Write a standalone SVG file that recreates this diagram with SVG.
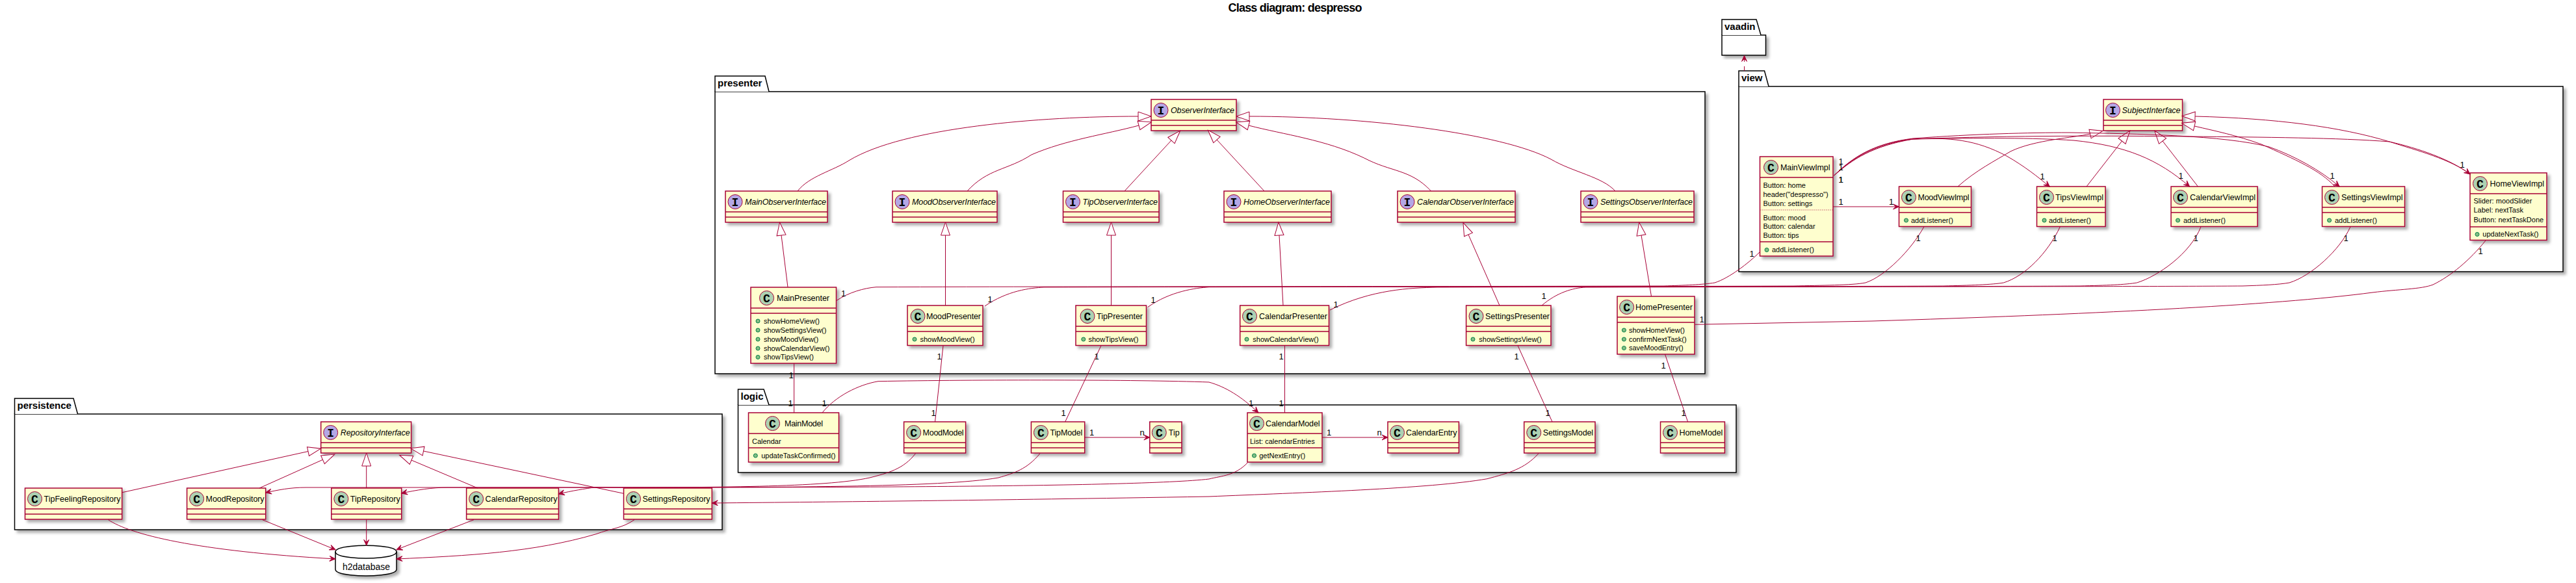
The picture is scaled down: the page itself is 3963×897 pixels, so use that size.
<svg xmlns="http://www.w3.org/2000/svg" width="3963" height="897" viewBox="0 0 3963 897">
<style>
text{font-family:"Liberation Sans",Arial,sans-serif;fill:#000}
.title{font-size:18px;font-weight:bold}
.pk{font-size:15px;font-weight:bold}
.pb{fill:#fff;stroke:#000;stroke-width:1.5;filter:url(#sh)}
.pt{fill:#fff;stroke:#000;stroke-width:1.5}
.box{fill:#FEFECE;stroke:#A80036;stroke-width:1.5;filter:url(#sh)}
.sep{fill:none;stroke:#A80036;stroke-width:1.5}
.dot{fill:none;stroke:#A80036;stroke-width:1;stroke-dasharray:1,2}
.cc{fill:#ADD1B2;stroke:#A80036;stroke-width:1}
.ci{fill:#B4A7E5;stroke:#A80036;stroke-width:1}
.g{font-family:"Liberation Mono",monospace;font-size:18px;font-weight:bold;text-anchor:middle}
.n{font-size:12.5px}
.ni{font-size:12.5px;font-style:italic}
.m{font-size:11px}
.md{fill:#84BE84;stroke:#038048;stroke-width:1}
.l{font-size:13px;text-anchor:middle}
.c{fill:none;stroke:#A80036;stroke-width:1}
.a{marker-end:url(#arr)}
.i{marker-end:url(#tri)}
.d{stroke-dasharray:7,7}
.db{fill:#fff;stroke:#000;stroke-width:1.5;filter:url(#sh)}
</style>
<defs>
<filter id="sh" x="-10%" y="-10%" width="130%" height="130%">
<feGaussianBlur in="SourceAlpha" stdDeviation="2" result="b"/>
<feOffset in="b" dx="4" dy="4" result="o"/>
<feColorMatrix in="o" type="matrix" values="0 0 0 0 0 0 0 0 0 0 0 0 0 0 0 0 0 0 .32 0" result="s"/>
<feMerge><feMergeNode in="s"/><feMergeNode in="SourceGraphic"/></feMerge>
</filter>
<marker id="arr" markerUnits="userSpaceOnUse" orient="auto" markerWidth="13" markerHeight="12" refX="10" refY="5" overflow="visible"><path d="M10,5 L1,1 L5,5 L1,9 Z" fill="#A80036" stroke="#A80036"/></marker>
<marker id="tri" markerUnits="userSpaceOnUse" orient="auto" markerWidth="24" markerHeight="18" refX="1" refY="8" overflow="visible"><path d="M1,1 L21,8 L1,15 Z" fill="#fff" stroke="#A80036"/></marker>
</defs>
<rect x="0" y="0" width="3963" height="897" fill="#fff"/>
<text class="title" x="1889.5" y="18" textLength="206">Class diagram: despresso</text>

<g id="pkg-presenter"><rect class="pb" x="1100" y="141" width="1523" height="434"/><path class="pt" d="M1100,141 V117 H1177 L1183,141"/><text class="pk" x="1104" y="133">presenter</text></g>
<g id="pkg-view"><rect class="pb" x="2675" y="133" width="1268" height="285"/><path class="pt" d="M2675,133 V109 H2714.5 L2721,133"/><text class="pk" x="2679" y="125">view</text></g>
<g id="pkg-vaadin"><rect class="pb" x="2649" y="54" width="67.5" height="31"/><path class="pt" d="M2649,54 V30 H2702 L2709,54"/><text class="pk" x="2653" y="46">vaadin</text></g>
<g id="pkg-logic"><rect class="pb" x="1135.5" y="623" width="1535.5" height="104"/><path class="pt" d="M1135.5,623 V599 H1175 L1183,623"/><text class="pk" x="1139.5" y="615">logic</text></g>
<g id="pkg-persistence"><rect class="pb" x="22.5" y="637" width="1088.5" height="178"/><path class="pt" d="M22.5,637 V613 H113 L119.5,637"/><text class="pk" x="26.5" y="629">persistence</text></g>

<g id="ObserverInterface"><rect class="box" x="1771" y="153" width="131" height="48"/><path class="sep" d="M1771,185H1902M1771,193H1902"/><circle class="ci" cx="1786" cy="169.5" r="11"/><text class="g" x="1786" y="175.5">I</text><text class="ni" x="1801" y="174" textLength="98">ObserverInterface</text></g>
<g id="MainObserverInterface"><rect class="box" x="1116" y="294" width="157" height="48"/><path class="sep" d="M1116,326H1273M1116,334H1273"/><circle class="ci" cx="1131" cy="310.5" r="11"/><text class="g" x="1131" y="316.5">I</text><text class="ni" x="1146" y="315" textLength="125">MainObserverInterface</text></g>
<g id="MoodObserverInterface"><rect class="box" x="1373" y="294" width="161" height="48"/><path class="sep" d="M1373,326H1534M1373,334H1534"/><circle class="ci" cx="1388" cy="310.5" r="11"/><text class="g" x="1388" y="316.5">I</text><text class="ni" x="1403" y="315" textLength="129">MoodObserverInterface</text></g>
<g id="TipObserverInterface"><rect class="box" x="1635.5" y="294" width="147.5" height="48"/><path class="sep" d="M1635.5,326H1783M1635.5,334H1783"/><circle class="ci" cx="1650.5" cy="310.5" r="11"/><text class="g" x="1650.5" y="316.5">I</text><text class="ni" x="1665.5" y="315" textLength="115.5">TipObserverInterface</text></g>
<g id="HomeObserverInterface"><rect class="box" x="1883" y="294" width="165" height="48"/><path class="sep" d="M1883,326H2048M1883,334H2048"/><circle class="ci" cx="1898" cy="310.5" r="11"/><text class="g" x="1898" y="316.5">I</text><text class="ni" x="1913" y="315" textLength="133">HomeObserverInterface</text></g>
<g id="CalendarObserverInterface"><rect class="box" x="2150" y="294" width="181" height="48"/><path class="sep" d="M2150,326H2331M2150,334H2331"/><circle class="ci" cx="2165" cy="310.5" r="11"/><text class="g" x="2165" y="316.5">I</text><text class="ni" x="2180" y="315" textLength="149">CalendarObserverInterface</text></g>
<g id="SettingsObserverInterface"><rect class="box" x="2432" y="294" width="174" height="48"/><path class="sep" d="M2432,326H2606M2432,334H2606"/><circle class="ci" cx="2447" cy="310.5" r="11"/><text class="g" x="2447" y="316.5">I</text><text class="ni" x="2462" y="315" textLength="142">SettingsObserverInterface</text></g>

<g id="MainPresenter"><rect class="box" x="1155" y="442" width="131.5" height="117"/><path class="sep" d="M1155,474H1286.5M1155,482H1286.5"/><circle class="cc" cx="1179.5" cy="458.5" r="11"/><text class="g" x="1179.5" y="464.5">C</text><text class="n" x="1195" y="463" textLength="81">MainPresenter</text>
<circle class="md" cx="1166" cy="494" r="3"/><text class="m" x="1175" y="497.5">showHomeView()</text><circle class="md" cx="1166" cy="508" r="3"/><text class="m" x="1175" y="511.5">showSettingsView()</text><circle class="md" cx="1166" cy="522" r="3"/><text class="m" x="1175" y="525.5">showMoodView()</text><circle class="md" cx="1166" cy="536" r="3"/><text class="m" x="1175" y="539.5">showCalendarView()</text><circle class="md" cx="1166" cy="549.5" r="3"/><text class="m" x="1175" y="553">showTipsView()</text></g>
<g id="MoodPresenter"><rect class="box" x="1396" y="470" width="116" height="61.5"/><path class="sep" d="M1396,502H1512M1396,510H1512"/><circle class="cc" cx="1412" cy="486.5" r="11"/><text class="g" x="1412" y="492.5">C</text><text class="n" x="1425" y="491" textLength="84">MoodPresenter</text><circle class="md" cx="1407" cy="522" r="3"/><text class="m" x="1415.5" y="525.5">showMoodView()</text></g>
<g id="TipPresenter"><rect class="box" x="1655" y="470" width="108.5" height="61.5"/><path class="sep" d="M1655,502H1763.5M1655,510H1763.5"/><circle class="cc" cx="1673" cy="486.5" r="11"/><text class="g" x="1673" y="492.5">C</text><text class="n" x="1687" y="491" textLength="71">TipPresenter</text><circle class="md" cx="1666.8" cy="522" r="3"/><text class="m" x="1674.4" y="525.5">showTipsView()</text></g>
<g id="CalendarPresenter"><rect class="box" x="1907.7" y="470" width="136.8" height="61.5"/><path class="sep" d="M1907.7,502H2044.5M1907.7,510H2044.5"/><circle class="cc" cx="1922.5" cy="486.5" r="11"/><text class="g" x="1922.5" y="492.5">C</text><text class="n" x="1937" y="491" textLength="105">CalendarPresenter</text><circle class="md" cx="1918" cy="522" r="3"/><text class="m" x="1927.3" y="525.5">showCalendarView()</text></g>
<g id="SettingsPresenter"><rect class="box" x="2255.6" y="470" width="130.4" height="61.5"/><path class="sep" d="M2255.6,502H2386M2255.6,510H2386"/><circle class="cc" cx="2271" cy="486.5" r="11"/><text class="g" x="2271" y="492.5">C</text><text class="n" x="2285" y="491" textLength="99">SettingsPresenter</text><circle class="md" cx="2266" cy="522" r="3"/><text class="m" x="2275.3" y="525.5">showSettingsView()</text></g>
<g id="HomePresenter"><rect class="box" x="2488" y="456" width="119" height="89"/><path class="sep" d="M2488,488H2607M2488,496H2607"/><circle class="cc" cx="2502.6" cy="472.5" r="11"/><text class="g" x="2502.6" y="478.5">C</text><text class="n" x="2516" y="477" textLength="88">HomePresenter</text><circle class="md" cx="2498.4" cy="508" r="3"/><text class="m" x="2506" y="511.5">showHomeView()</text><circle class="md" cx="2498.4" cy="522" r="3"/><text class="m" x="2506" y="525.5">confirmNextTask()</text><circle class="md" cx="2498.4" cy="535.5" r="3"/><text class="m" x="2506" y="539">saveMoodEntry()</text></g>

<g id="SubjectInterface"><rect class="box" x="3236" y="153" width="121.5" height="48"/><path class="sep" d="M3236,185H3357.5M3236,193H3357.5"/><circle class="ci" cx="3250.5" cy="169.5" r="11"/><text class="g" x="3250.5" y="175.5">I</text><text class="ni" x="3264.5" y="174" textLength="90">SubjectInterface</text></g>
<g id="MainViewImpl"><rect class="box" x="2707.5" y="241" width="112.5" height="153"/><path class="sep" d="M2707.5,273H2820M2707.5,372H2820"/><path class="dot" d="M2707.5,323H2820"/><circle class="cc" cx="2724.5" cy="257.5" r="11"/><text class="g" x="2724.5" y="263.5">C</text><text class="n" x="2739" y="262" textLength="76.5">MainViewImpl</text>
<text class="m" x="2712.5" y="288.5">Button: home</text><text class="m" x="2712.5" y="302.5">header("despresso")</text><text class="m" x="2712.5" y="316.5">Button: settings</text><text class="m" x="2712.5" y="338.5">Button: mood</text><text class="m" x="2712.5" y="352">Button: calendar</text><text class="m" x="2712.5" y="366">Button: tips</text><circle class="md" cx="2718" cy="384.5" r="3"/><text class="m" x="2726" y="388">addListener()</text></g>
<g id="MoodViewImpl"><rect class="box" x="2921.5" y="287" width="111" height="61.5"/><path class="sep" d="M2921.5,319H3032.5M2921.5,327H3032.5"/><circle class="cc" cx="2936.5" cy="303.5" r="11"/><text class="g" x="2936.5" y="309.5">C</text><text class="n" x="2950.5" y="308" textLength="79">MoodViewImpl</text><circle class="md" cx="2932.5" cy="339" r="3"/><text class="m" x="2940" y="342.5">addListener()</text></g>
<g id="TipsViewImpl"><rect class="box" x="3133.5" y="287" width="105.5" height="61.5"/><path class="sep" d="M3133.5,319H3239M3133.5,327H3239"/><circle class="cc" cx="3148.5" cy="303.5" r="11"/><text class="g" x="3148.5" y="309.5">C</text><text class="n" x="3162" y="308" textLength="74">TipsViewImpl</text><circle class="md" cx="3145" cy="339" r="3"/><text class="m" x="3152" y="342.5">addListener()</text></g>
<g id="CalendarViewImpl"><rect class="box" x="3340" y="287" width="133" height="61.5"/><path class="sep" d="M3340,319H3473M3340,327H3473"/><circle class="cc" cx="3354.5" cy="303.5" r="11"/><text class="g" x="3354.5" y="309.5">C</text><text class="n" x="3369" y="308" textLength="101">CalendarViewImpl</text><circle class="md" cx="3350.5" cy="339" r="3"/><text class="m" x="3359" y="342.5">addListener()</text></g>
<g id="SettingsViewImpl"><rect class="box" x="3572.5" y="287" width="127" height="61.5"/><path class="sep" d="M3572.5,319H3699.5M3572.5,327H3699.5"/><circle class="cc" cx="3587.5" cy="303.5" r="11"/><text class="g" x="3587.5" y="309.5">C</text><text class="n" x="3602" y="308" textLength="94.5">SettingsViewImpl</text><circle class="md" cx="3583.5" cy="339" r="3"/><text class="m" x="3592" y="342.5">addListener()</text></g>
<g id="HomeViewImpl"><rect class="box" x="3800" y="266" width="118" height="103.5"/><path class="sep" d="M3800,298H3918M3800,349H3918"/><circle class="cc" cx="3815.5" cy="282.5" r="11"/><text class="g" x="3815.5" y="288.5">C</text><text class="n" x="3830.5" y="287" textLength="83.5">HomeViewImpl</text><text class="m" x="3805.5" y="313">Slider: moodSlider</text><text class="m" x="3805.5" y="327">Label: nextTask</text><text class="m" x="3805.5" y="341.5">Button: nextTaskDone</text><circle class="md" cx="3811" cy="360.5" r="3"/><text class="m" x="3819.3" y="364">updateNextTask()</text></g>

<g id="MainModel"><rect class="box" x="1151.5" y="635" width="139" height="76"/><path class="sep" d="M1151.5,667H1290.5M1151.5,689H1290.5"/><circle class="cc" cx="1188.5" cy="651.5" r="11"/><text class="g" x="1188.5" y="657.5">C</text><text class="n" x="1207" y="656" textLength="59">MainModel</text><text class="m" x="1157" y="682.5">Calendar</text><circle class="md" cx="1162.3" cy="701" r="3"/><text class="m" x="1171.2" y="704.5">updateTaskConfirmed()</text></g>
<g id="MoodModel"><rect class="box" x="1390.6" y="649" width="95" height="48"/><path class="sep" d="M1390.6,681H1485.6M1390.6,689H1485.6"/><circle class="cc" cx="1405.6" cy="665.5" r="11"/><text class="g" x="1405.6" y="671.5">C</text><text class="n" x="1419.6" y="670" textLength="63">MoodModel</text></g>
<g id="TipModel"><rect class="box" x="1586.4" y="649" width="82.3" height="48"/><path class="sep" d="M1586.4,681H1668.7M1586.4,689H1668.7"/><circle class="cc" cx="1601.4" cy="665.5" r="11"/><text class="g" x="1601.4" y="671.5">C</text><text class="n" x="1615.4" y="670" textLength="50">TipModel</text></g>
<g id="Tip"><rect class="box" x="1768.8" y="649" width="49.2" height="48"/><path class="sep" d="M1768.8,681H1818M1768.8,689H1818"/><circle class="cc" cx="1783.3" cy="665.5" r="11"/><text class="g" x="1783.3" y="671.5">C</text><text class="n" x="1797.8" y="670" textLength="17">Tip</text></g>
<g id="CalendarModel"><rect class="box" x="1919" y="635" width="115" height="76"/><path class="sep" d="M1919,667H2034M1919,689H2034"/><circle class="cc" cx="1933.5" cy="651.5" r="11"/><text class="g" x="1933.5" y="657.5">C</text><text class="n" x="1947" y="656" textLength="83.5">CalendarModel</text><text class="m" x="1923" y="682.5">List: calendarEntries</text><circle class="md" cx="1929.5" cy="701" r="3"/><text class="m" x="1937.2" y="704.5">getNextEntry()</text></g>
<g id="CalendarEntry"><rect class="box" x="2135" y="649" width="109.4" height="48"/><path class="sep" d="M2135,681H2244.4M2135,689H2244.4"/><circle class="cc" cx="2149.5" cy="665.5" r="11"/><text class="g" x="2149.5" y="671.5">C</text><text class="n" x="2163" y="670" textLength="78.4">CalendarEntry</text></g>
<g id="SettingsModel"><rect class="box" x="2344.7" y="649" width="109.3" height="48"/><path class="sep" d="M2344.7,681H2454M2344.7,689H2454"/><circle class="cc" cx="2359.7" cy="665.5" r="11"/><text class="g" x="2359.7" y="671.5">C</text><text class="n" x="2373.7" y="670" textLength="77.3">SettingsModel</text></g>
<g id="HomeModel"><rect class="box" x="2554.5" y="649" width="98.9" height="48"/><path class="sep" d="M2554.5,681H2653.4M2554.5,689H2653.4"/><circle class="cc" cx="2569.5" cy="665.5" r="11"/><text class="g" x="2569.5" y="671.5">C</text><text class="n" x="2583.5" y="670" textLength="66.9">HomeModel</text></g>

<g id="RepositoryInterface"><rect class="box" x="493.7" y="649" width="138.9" height="48"/><path class="sep" d="M493.7,681H632.6M493.7,689H632.6"/><circle class="ci" cx="508.7" cy="665.5" r="11"/><text class="g" x="508.7" y="671.5">I</text><text class="ni" x="523.7" y="670" textLength="106.9">RepositoryInterface</text></g>
<g id="TipFeelingRepository"><rect class="box" x="38.5" y="751" width="149.2" height="48"/><path class="sep" d="M38.5,783H187.7M38.5,791H187.7"/><circle class="cc" cx="53.5" cy="767.5" r="11"/><text class="g" x="53.5" y="773.5">C</text><text class="n" x="67.5" y="772" textLength="118">TipFeelingRepository</text></g>
<g id="MoodRepository"><rect class="box" x="287.6" y="751" width="121.1" height="48"/><path class="sep" d="M287.6,783H408.7M287.6,791H408.7"/><circle class="cc" cx="302.6" cy="767.5" r="11"/><text class="g" x="302.6" y="773.5">C</text><text class="n" x="316.6" y="772" textLength="90">MoodRepository</text></g>
<g id="TipRepository"><rect class="box" x="509.8" y="751" width="107.9" height="48"/><path class="sep" d="M509.8,783H617.7M509.8,791H617.7"/><circle class="cc" cx="524.8" cy="767.5" r="11"/><text class="g" x="524.8" y="773.5">C</text><text class="n" x="538.8" y="772" textLength="76.9">TipRepository</text></g>
<g id="CalendarRepository"><rect class="box" x="717.6" y="751" width="141.8" height="48"/><path class="sep" d="M717.6,783H859.4M717.6,791H859.4"/><circle class="cc" cx="732.6" cy="767.5" r="11"/><text class="g" x="732.6" y="773.5">C</text><text class="n" x="746.6" y="772" textLength="110.8">CalendarRepository</text></g>
<g id="SettingsRepository"><rect class="box" x="959.5" y="751" width="135.8" height="48"/><path class="sep" d="M959.5,783H1095.3M959.5,791H1095.3"/><circle class="cc" cx="974.5" cy="767.5" r="11"/><text class="g" x="974.5" y="773.5">C</text><text class="n" x="988.5" y="772" textLength="104">SettingsRepository</text></g>
<g id="h2database"><path class="db" d="M516,849 C516,839.3 563,839.3 563,839.3 C563,839.3 610,839.3 610,849 L610,876 C610,886 563,886 563,886 C563,886 516,886 516,876 Z"/><path d="M516,849 C516,859 563,859 563,859 C563,859 610,859 610,849" fill="none" stroke="#000" stroke-width="1.5"/><text x="563.5" y="877" font-size="14" text-anchor="middle">h2database</text></g>

<g id="connectors">
<path class="c d a" d="M2683.5,109 V85.5"/>
<g>
<path class="c i" d="M1227,294 C1245,271 1281,263 1306,247 C1390,196 1600,179 1751,179"/>
<path class="c i" d="M1488,294 C1520,259 1550,262 1587,238 C1640,215 1700,207 1752,193"/>
<path class="c i" d="M1730,294 L1802,216"/>
<path class="c i" d="M1945,294 L1872,215"/>
<path class="c i" d="M2201.6,294 C2170,260 2140,265 2098.5,243 C2040,215 1975,207 1921,193"/>
<path class="c i" d="M2485,294 C2465,272 2420,265 2386,245 C2310,205 2100,179 1922,179"/>
<path class="c i" d="M1212,442 L1202,362"/>
<path class="c i" d="M1454.5,470 V362"/>
<path class="c i" d="M1709.5,470 V362"/>
<path class="c i" d="M1974,470 L1968,362"/>
<path class="c i" d="M2307,470 L2259,361"/>
<path class="c i" d="M2540.5,456 L2525,362"/>
<path class="c i" d="M3012,287 C3040,262 3070,247 3093,233 C3130,215 3190,212 3215.5,206"/>
<path class="c i" d="M3210,287 L3264.5,217"/>
<path class="c i" d="M3381.4,287 L3327,217"/>
<path class="c i" d="M3592,287 C3570,262 3530,245 3479,222 C3440,208 3410,202 3376,194"/>
<path class="c i" d="M3800,268 C3770,245 3720,232 3676,218 C3600,195 3500,182 3377,179"/>
<path class="c i" d="M188,757.7 L474,694.5"/>
<path class="c i" d="M399,751 L496.5,707.3"/>
<path class="c i" d="M563.7,751 V717"/>
<path class="c i" d="M734.8,751 L633,708"/>
<path class="c i" d="M959.5,759.3 L651.5,694"/>
</g>
<g>
<path class="c a" d="M2820,318 H2921.5"/>
<path class="c a" d="M2821.7,270 C2850,245 2880,225 2943,214 C3000,211 3040,215 3087,240 C3115,256 3135,272 3153.3,287.3"/>
<path class="c a" d="M2821.7,270 C2850,243 2885,222 2943,214 C3050,212 3130,212 3190,216 C3270,224 3320,245 3368.5,287"/>
<path class="c a" d="M2821.7,270 C2850,242 2885,220 2943,213 C3040,206 3120,204 3184,204 C3290,206 3420,208 3491,226 C3530,240 3570,262 3599,287"/>
<path class="c a" d="M2821.7,270 C2852,240 2885,220 2943,214 C3100,208 3250,209 3368.5,210 C3480,211 3600,212 3676,218 C3720,228 3770,245 3800,268"/>
<path class="c a" d="M1668.7,673 H1768.8"/>
<path class="c a" d="M2034,673 H2135"/>
<path class="c a" d="M1265,635 C1285,610 1320,592 1351,586.7 C1500,584 1750,584 1860,588 C1885,595 1910,610 1935.8,635"/>
<path class="c a" d="M1408.5,697.7 C1390,722 1365,728 1338,735 C1270,750 1100,750 900,750 L471,750 C445,750 428,754 408.7,758"/>
<path class="c a" d="M1600,697.7 C1580,722 1560,728 1536,735 C1450,750 1200,750 900,750 L689,750 C665,750 640,754 617.7,759"/>
<path class="c a" d="M1919.6,711.7 C1900,732 1880,732 1860,737 C1750,750 1200,750 960,750 L917,749.5 C900,752 880,755 859.4,760"/>
<path class="c a" d="M2367,697.7 C2345,722 2320,728 2288,736.7 C2200,752 2000,758 1860,764 C1500,770 1300,772 1095.3,774"/>
<path class="c a" d="M166.5,799.7 C200,822 300,848 516,860"/>
<path class="c a" d="M403.6,799.7 L516,845.7"/>
<path class="c a" d="M563.7,799.7 V839.3"/>
<path class="c a" d="M729,799.7 L610,845.7"/>
<path class="c a" d="M976,799.7 C957,813 940,813 917,821.7 C820,850 720,855 610,860"/>
</g>
<g>
<path class="c" d="M1286.6,462.7 C1305,450 1330,443 1348,441.7 C1700,440.5 2200,441 2560,440 C2590,439 2620,438 2638,435 C2660,428 2690,405 2707,388"/>
<path class="c" d="M1515,471 C1550,447 1585,443 1606,442 C2000,441 2500,441 2760,440 C2800,439 2850,439 2870,435 C2900,425 2940,385 2960,348.7"/>
<path class="c" d="M1765.6,472.7 C1800,448 1840,443 1860,441.7 C2300,441 2800,441 2990,440 C3030,439 3065,438 3082.4,435 C3115,425 3150,390 3169.4,348.7"/>
<path class="c" d="M2046,477 C2110,445 2170,443 2211,442 C2600,441 3000,441 3200,440 C3240,439 3270,438 3287.5,435 C3320,425 3370,390 3386,348.7"/>
<path class="c" d="M2372,470 C2395,450 2420,443 2439,442 C2800,441 3300,441 3450,440 C3480,439 3505,438 3522,435 C3555,425 3600,385 3616,348.7"/>
<path class="c" d="M2607.7,499.3 L2880,494 C3200,484 3500,470 3650,450 C3690,445 3725,445 3743,438 C3770,425 3800,400 3824,370"/>
<path class="c" d="M1221.6,559 V635"/>
<path class="c" d="M1451,531.7 L1438.5,649"/>
<path class="c" d="M1694,531.7 L1638.7,649"/>
<path class="c" d="M1976.5,531.5 V635"/>
<path class="c" d="M2335,531.7 L2388,649"/>
<path class="c" d="M2561.5,545 L2596.6,649"/>
</g>
</g>
<g id="labels">
<text class="l" x="1297.5" y="456">1</text><text class="l" x="2695" y="395">1</text>
<text class="l" x="1523" y="465">1</text><text class="l" x="2951" y="371">1</text>
<text class="l" x="1774" y="466">1</text><text class="l" x="3161" y="371">1</text>
<text class="l" x="2055" y="473">1</text><text class="l" x="3378" y="371">1</text>
<text class="l" x="2375" y="460">1</text><text class="l" x="3609" y="371">1</text>
<text class="l" x="2618" y="496">1</text><text class="l" x="3816" y="391">1</text>
<text class="l" x="2832" y="253">1</text><text class="l" x="2832" y="262">1</text><text class="l" x="2832" y="281">1</text><text class="l" x="2832" y="281">1</text>
<text class="l" x="2832" y="315">1</text><text class="l" x="2909.5" y="315">1</text>
<text class="l" x="3142" y="276">1</text><text class="l" x="3355" y="275">1</text><text class="l" x="3588" y="275">1</text><text class="l" x="3788" y="258">1</text>
<text class="l" x="1217" y="582">1</text><text class="l" x="1216" y="625">1</text>
<text class="l" x="1268" y="625">1</text><text class="l" x="1924.5" y="625">1</text>
<text class="l" x="1445" y="553">1</text><text class="l" x="1436" y="640">1</text>
<text class="l" x="1687" y="553">1</text><text class="l" x="1636" y="640">1</text>
<text class="l" x="1971" y="553">1</text><text class="l" x="1971" y="625">1</text>
<text class="l" x="2333" y="553">1</text><text class="l" x="2381" y="640">1</text>
<text class="l" x="2559" y="567">1</text><text class="l" x="2590" y="640">1</text>
<text class="l" x="1679.5" y="670">1</text><text class="l" x="1757" y="670">n</text>
<text class="l" x="2044.5" y="670">1</text><text class="l" x="2122" y="670">n</text>
</g>
</svg>
